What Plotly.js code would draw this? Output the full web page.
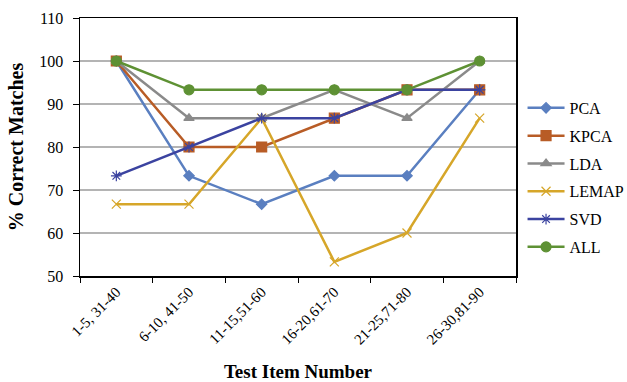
<!DOCTYPE html>
<html>
<head>
<meta charset="utf-8">
<script src="https://cdn.plot.ly/plotly-3.0.1.min.js"></script>
<style>html,body{margin:0;padding:0;background:#fff;}#chart{width:627px;height:382px;}</style>
</head>
<body>
<div id="chart"></div>
<script>
var categories = ["1-5, 31-40", "6-10, 41-50", "11-15,51-60", "16-20,61-70", "21-25,71-80", "26-30,81-90"];
var seriesNames = ["PCA", "KPCA", "LDA", "LEMAP", "SVD", "ALL"];
var PCA   = [100, 73.3, 66.7, 73.3, 73.3, 93.3];
var KPCA  = [100, 80, 80, 86.7, 93.3, 93.3];
var LDA   = [100, 86.7, 86.7, 93.3, 86.7, 100];
var LEMAP = [66.7, 66.7, 86.7, 53.3, 60, 86.7];
var SVD   = [73.3, 80, 86.7, 86.7, 93.3, 93.3];
var ALL   = [100, 93.3, 93.3, 93.3, 93.3, 100];
var yTicks = [50, 60, 70, 80, 90, 100, 110];

var values = [PCA, KPCA, LDA, LEMAP, SVD, ALL];
var colors = ["#5a7fc0", "#b85c26", "#8a8a8a", "#d6a629", "#3b43a0", "#5e9134"];
var symbols = ["diamond", "square", "triangle-up", "x-thin-open", "asterisk-open", "circle"];
var sizes = [8, 10, 9, 9, 9, 10];
var serif = "'Liberation Serif', 'Times New Roman', serif";

var traces = seriesNames.map(function(n, i) {
  return {
    type: "scatter", mode: "lines+markers", name: n,
    x: categories, y: values[i],
    line: {color: colors[i], width: 2.5},
    marker: {symbol: symbols[i], size: sizes[i], color: colors[i], line: {color: colors[i], width: 1.2}},
    legendgroup: n
  };
});

var layout = {
  width: 627, height: 382,
  margin: {l: 80, r: 111, t: 18, b: 106, autoexpand: false},
  paper_bgcolor: "#fff", plot_bgcolor: "#fff",
  font: {family: serif, color: "#000"},
  showlegend: true,
  legend: {x: 1.015, xanchor: "left", y: 0.382, yanchor: "middle", font: {size: 16, family: serif}, tracegroupgap: 4, itemwidth: 37, bgcolor: "rgba(0,0,0,0)"},
  xaxis: {
    type: "category", range: [-0.5, 5.5], tickson: "boundaries",
    ticks: "outside", ticklen: 5, tickcolor: "#000",
    showline: true, linecolor: "#000", linewidth: 1.5, mirror: true,
    showgrid: false, tickangle: -45, tickfont: {size: 15, family: serif},
    title: {text: "Test Item Number", font: {size: 19, weight: "bold", family: serif}, standoff: 20}
  },
  yaxis: {
    range: [50, 110], tickvals: yTicks,
    ticks: "outside", ticklen: 6, tickcolor: "#000",
    showline: true, linecolor: "#000", linewidth: 1.5, mirror: true,
    showgrid: true, gridcolor: "#b4b4b4", gridwidth: 1.2, zeroline: false,
    tickfont: {size: 16, family: serif}, ticklabelstandoff: 6,
    title: {text: "% Correct Matches", font: {size: 20, weight: "bold", family: serif}, standoff: 10}
  }
};

Plotly.newPlot("chart", traces, layout, {displayModeBar: false, staticPlot: true});
</script>
</body>
</html>
